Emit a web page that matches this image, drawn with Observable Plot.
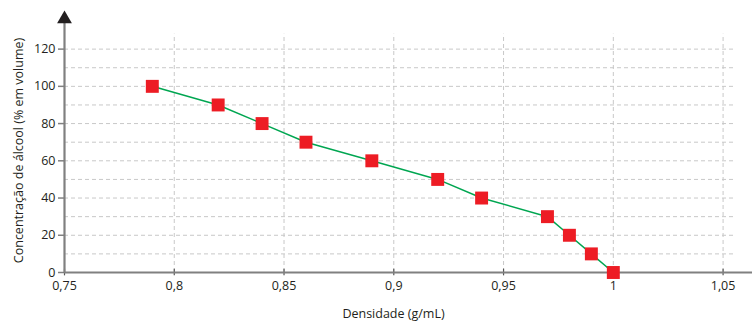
<!DOCTYPE html>
<html><head><meta charset="utf-8">
<script src="https://cdn.jsdelivr.net/npm/d3@7"></script>
<script src="https://cdn.jsdelivr.net/npm/@observablehq/plot@0.6"></script>
<style>
body{margin:0;background:#fff;}
#chart svg{display:block;}
</style></head>
<body><div id="chart"></div>
<script>
const density = [0.79, 0.82, 0.84, 0.86, 0.89, 0.92, 0.94, 0.97, 0.98, 0.99, 1.0];
const concentration = [100, 90, 80, 70, 60, 50, 40, 30, 20, 10, 0];
const xTicks = [0.75, 0.8, 0.85, 0.9, 0.95, 1.0, 1.05];
const xTickLabels = ["0,75", "0,8", "0,85", "0,9", "0,95", "1", "1,05"];
const yTicks = [0, 20, 40, 60, 80, 100, 120];
const yGrid = [10, 20, 30, 40, 50, 60, 70, 80, 90, 100, 110, 120];
const xGrid = [0.8, 0.85, 0.9, 0.95, 1.0, 1.05];
const xLabel = "Densidade (g/mL)";
const yLabel = "Concentração de álcool (% em volume)";

const data = density.map((d, i) => ({x: d, y: concentration[i]}));
const axisColor = "#808080";
const gridColor = "#c8c8c8";
const textColor = "#231f20";

const chart = Plot.plot({
  width: 752,
  height: 323,
  marginLeft: 64,
  marginRight: 0,
  marginTop: 30,
  marginBottom: 51,
  style: {fontFamily: "'Open Sans', sans-serif", fontSize: "12.5px", color: textColor, background: "#fff"},
  x: {domain: [0.75, 1.0634]},
  y: {domain: [0, 130]},
  marks: [
    Plot.ruleY(yGrid, {x1: 0.75, x2: 1.056, stroke: gridColor, strokeDasharray: "4,3", strokeWidth: 1}),
    Plot.ruleX(xGrid, {y1: 0, y2: 128, stroke: gridColor, strokeDasharray: "4,3", strokeWidth: 1}),
    Plot.axisX({ticks: xTicks, tickFormat: (d, i) => xTickLabels[i], tickSize: 0, tickPadding: 9, label: null, fill: textColor, fontSize: 12.5}),
    Plot.axisY({ticks: yTicks, tickSize: 6, tickPadding: 3, label: null, stroke: axisColor, strokeWidth: 1.5, fill: textColor, fontSize: 12.5}),
    Plot.ruleX(xTicks, {y1: -1.8, y2: 1.8, stroke: "#555", strokeWidth: 1.2}),
    Plot.ruleY([0], {x1: 0.75, x2: 1.0634, stroke: axisColor, strokeWidth: 2.2}),
    Plot.ruleX([0.75], {y1: 0, y2: 134, stroke: axisColor, strokeWidth: 2.2}),
    Plot.dot([{x: 0.75, y: 136.2}], {x: "x", y: "y", symbol: "triangle", r: 5.5, fill: "#231f20", stroke: null}),
    Plot.line(data, {x: "x", y: "y", stroke: "#00a651", strokeWidth: 1.5}),
    Plot.dot(data, {x: "x", y: "y", symbol: "square", r: 7.3, fill: "#ed1c24", stroke: null}),
    Plot.text([xLabel], {frameAnchor: "bottom", textAnchor: "middle", dx: -15, dy: 45, fill: textColor, fontSize: 12.5}),
    Plot.text([yLabel], {frameAnchor: "left", textAnchor: "middle", dx: -46, dy: -1, rotate: -90, fill: textColor, fontSize: 12.5})
  ]
});
document.getElementById("chart").appendChild(chart);
</script>
</body></html>
